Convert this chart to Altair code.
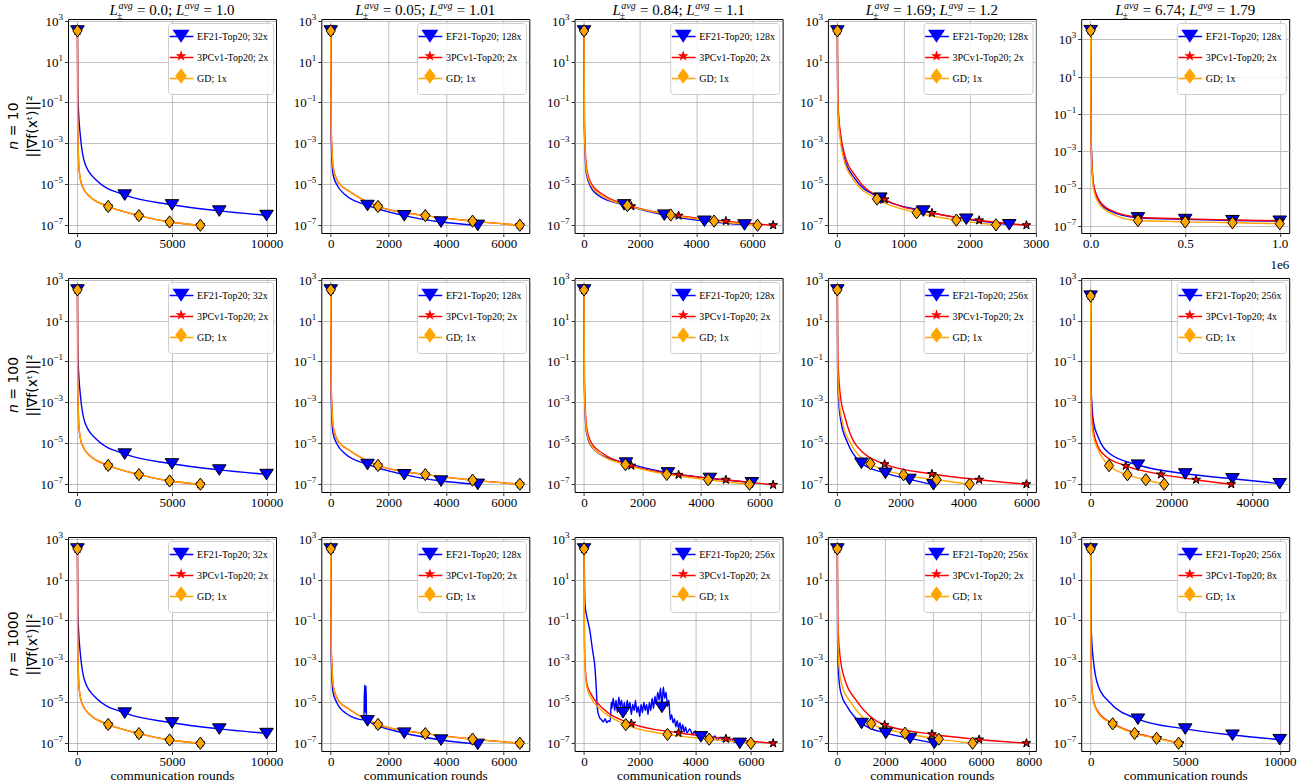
import altair as alt
import pandas as pd

# ---------------- texts ----------------
L_PM = ["0.0", "0.05", "0.84", "1.69", "6.74"]
L_M = ["1.0", "1.01", "1.1", "1.2", "1.79"]
N_WORKERS = ["10", "100", "1000"]
EF_RATE = [["32x", "128x", "128x", "128x", "128x"],
           ["32x", "128x", "128x", "256x", "256x"],
           ["32x", "128x", "256x", "256x", "256x"]]
PC_RATE = [["2x", "2x", "2x", "2x", "2x"],
           ["2x", "2x", "2x", "2x", "4x"],
           ["2x", "2x", "2x", "2x", "8x"]]
X_TICKS = [[[0, 5000, 10000], [0, 2000, 4000, 6000], [0, 2000, 4000, 6000], [0, 1000, 2000, 3000], [0, 500000, 1000000]],
           [[0, 5000, 10000], [0, 2000, 4000, 6000], [0, 2000, 4000, 6000], [0, 2000, 4000, 6000], [0, 20000, 40000]],
           [[0, 5000, 10000], [0, 2000, 4000, 6000], [0, 2000, 4000, 6000], [0, 2000, 4000, 6000, 8000], [0, 5000, 10000]]]
Y_TICKS = [1e-7, 1e-5, 1e-3, 1e-1, 1e1, 1e3]
Y_EXP = ["−7", "−5", "−3", "−1", "1", "3"]

# ---------------- series (x = rounds, lg = log10 ||grad||^2) ----------------
# column 1 (identical for n = 10, 100, 1000)
C1_EF21_X = [0, 20, 60, 150, 400, 1000, 2500, 5000, 7500, 10000]
C1_EF21_LG = [2.5, -0.5, -1.5, -2.6, -4.0, -4.8, -5.52, -6.0, -6.3, -6.52]
C1_GD_X = [0, 13, 39, 98, 260, 650, 1625, 3250, 4875, 6500]
C1_GD_LG = [2.5, -2.0, -3.2, -4.4, -5.1, -5.6, -6.08, -6.53, -6.84, -7.0]
C1_PC_X = [0, 13, 39, 98, 260, 650, 1625, 3250, 4875, 6500]
C1_PC_LG = [2.5, -2.0, -3.2, -4.4, -5.1, -5.6, -6.08, -6.53, -6.84, -7.0]

# column 2
C2_EF21_X = [0, 10, 31, 77, 204, 510, 1275, 2550, 3825, 5100]
C2_EF21_LG = [2.5, -2.0, -3.4, -4.5, -5.0, -5.52, -6.03, -6.53, -6.84, -7.0]
C2_GD_X = [0, 13, 39, 98, 262, 656, 1640, 3280, 4920, 6560]
C2_GD_LG = [2.5, -2.0, -3.2, -4.3, -4.9, -5.35, -6.08, -6.53, -6.8, -7.0]
C2_PC_X = [0, 13, 39, 98, 262, 656, 1640, 3280, 4920, 6560]
C2_PC_LG = [2.5, -2.0, -3.2, -4.3, -4.9, -5.35, -6.08, -6.53, -6.8, -7.0]
R3C2_EF21_X = [0, 10, 31, 77, 204, 510, 1150, 1165, 1180, 1195, 1210, 1225, 1240, 1275, 2550, 3825, 5100]
R3C2_EF21_LG = [2.5, -2.0, -3.4, -4.5, -5.0, -5.52, -5.85, -4.7, -4.15, -5.5, -4.4, -4.2, -5.7, -5.9, -6.5, -6.84, -7.05]

# column 3
R1C3_EF21_X = [0, 11, 34, 86, 229, 573, 1433, 2865, 4298, 5730]
R1C3_EF21_LG = [2.5, -2.0, -3.4, -4.5, -5.1, -5.6, -6.0, -6.5, -6.8, -6.98]
R1C3_PC_X = [0, 14, 41, 101, 270, 675, 1688, 3375, 5063, 6750]
R1C3_PC_LG = [2.5, -1.9, -3.2, -4.3, -5.0, -5.5, -6.07, -6.53, -6.8, -7.0]
R1C3_GD_X = [0, 12, 37, 93, 248, 619, 1548, 3095, 4643, 6190]
R1C3_GD_LG = [2.5, -2.0, -3.3, -4.4, -5.05, -5.55, -6.04, -6.5, -6.8, -7.0]

R2C3_EF21_X = [0, 11, 34, 86, 230, 574, 1435, 2870, 4305, 5740]
R2C3_EF21_LG = [2.5, -2.0, -3.4, -4.5, -5.1, -5.55, -5.96, -6.44, -6.71, -6.92]
R2C3_PC_X = [0, 13, 39, 97, 259, 647, 1618, 3235, 4853, 6470]
R2C3_PC_LG = [2.5, -1.9, -3.2, -4.3, -5.0, -5.5, -6.09, -6.54, -6.78, -7.03]
R2C3_GD_X = [0, 11, 34, 85, 226, 566, 1415, 2830, 4245, 5660]
R2C3_GD_LG = [2.5, -2.0, -3.3, -4.4, -5.05, -5.55, -6.04, -6.52, -6.78, -7.0]

R3C3_EF21_X = [0, 35, 100, 212, 300, 390, 440, 472, 507, 560, 625, 700, 760, 820, 880, 940, 980,
               1000, 1050, 1100, 1150, 1200, 1250, 1300, 1350, 1400, 1450, 1500, 1550, 1600, 1650,
               1700, 1750, 1800, 1850, 1900, 1950, 2000, 2050, 2100, 2150, 2200, 2250, 2300, 2350,
               2400, 2450, 2500, 2550, 2600, 2650, 2700, 2750, 2800, 2850, 2900, 2950, 3000, 3050,
               3100, 3150, 3200, 3250, 3300, 3350, 3400, 3450, 3500, 3550, 3600, 3650, 3700, 3800,
               3900, 4000, 4100, 4200, 4300, 4400, 4500, 4600, 4700, 4800, 4900, 5000, 5100, 5200,
               5300, 5400, 5500, 5600]
R3C3_EF21_LG = [2.5, -0.24, -0.8, -1.52, -2.4, -3.28, -4.3, -5.2, -5.53, -5.75, -5.85, -5.95, -5.8, -6.0, -5.9, -5.95, -5.0,
                -5.3, -4.8, -5.4, -4.9, -5.5, -4.75, -5.2, -4.9, -5.5, -5.0, -5.6, -4.9, -5.3, -5.0,
                -5.6, -5.1, -5.4, -4.9, -5.5, -5.2, -5.7, -5.1, -5.5, -5.0, -5.4, -5.1, -5.6, -5.0,
                -5.4, -4.8, -5.3, -4.7, -5.1, -4.5, -4.9, -4.3, -5.24, -4.25, -4.8, -4.5, -5.2, -4.9,
                -5.85, -5.6, -6.0, -5.8, -6.2, -5.9, -6.3, -6.0, -6.4, -6.1, -6.45, -6.2, -6.5, -6.3,
                -6.55, -6.4, -6.6, -6.68, -6.5, -6.75, -6.6, -6.8, -6.65, -6.85, -6.7, -6.9, -6.75, -6.9,
                -6.8, -6.95, -6.85, -7.0]
R3C3_PC_X = [0, 14, 41, 102, 272, 680, 1700, 3400, 5100, 6800]
R3C3_PC_LG = [2.5, -1.9, -3.2, -4.1, -4.65, -5.3, -6.04, -6.49, -6.78, -7.0]
R3C3_GD_X = [0, 12, 36, 90, 240, 600, 1500, 3000, 4500, 6000]
R3C3_GD_LG = [2.5, -2.0, -3.3, -4.2, -4.75, -5.35, -6.09, -6.57, -6.8, -7.0]

# column 4
R1C4_EF21_X = [0, 5, 16, 39, 104, 260, 650, 1300, 1950, 2600]
R1C4_EF21_LG = [2.5, -0.6, -1.6, -2.5, -3.7, -4.7, -5.67, -6.3, -6.7, -6.97]
R1C4_PC_X = [0, 6, 17, 43, 114, 286, 715, 1430, 2145, 2860]
R1C4_PC_LG = [2.5, -0.5, -1.5, -2.4, -3.6, -4.65, -5.74, -6.4, -6.76, -7.0]
R1C4_GD_X = [0, 5, 14, 36, 96, 240, 600, 1200, 1800, 2400]
R1C4_GD_LG = [2.5, -0.7, -1.7, -2.6, -3.75, -4.75, -5.72, -6.39, -6.75, -6.98]

R2C4_EF21_X = [0, 6, 18, 46, 122, 305, 763, 1525, 2288, 3050]
R2C4_EF21_LG = [2.5, -1.0, -2.0, -3.0, -4.0, -4.9, -5.97, -6.46, -6.76, -7.02]
R2C4_PC_X = [0, 12, 36, 90, 240, 600, 1500, 3000, 4500, 6000]
R2C4_PC_LG = [2.5, -0.5, -1.5, -2.6, -3.7, -5.1, -6.02, -6.5, -6.78, -7.0]
R2C4_GD_X = [0, 8, 25, 63, 168, 420, 1050, 2100, 3150, 4200]
R2C4_GD_LG = [2.5, -1.0, -2.0, -3.0, -4.0, -5.0, -6.0, -6.54, -6.78, -7.0]

R3C4_EF21_X = [0, 8, 24, 61, 162, 405, 1013, 2025, 3038, 4050]
R3C4_EF21_LG = [2.5, -1.5, -2.8, -3.8, -4.6, -5.2, -6.03, -6.51, -6.76, -7.0]
R3C4_PC_X = [0, 16, 47, 118, 316, 790, 1975, 3950, 5925, 7900]
R3C4_PC_LG = [2.5, -0.8, -1.8, -2.8, -3.9, -4.9, -6.11, -6.56, -6.82, -7.0]
R3C4_GD_X = [0, 11, 34, 85, 226, 565, 1413, 2825, 4238, 5650]
R3C4_GD_LG = [2.5, -1.2, -2.4, -3.4, -4.3, -5.0, -6.05, -6.51, -6.8, -7.0]

# column 5
R1C5_X = [0, 2000, 6000, 15000, 40000, 100000, 250000, 500000, 750000, 1000000]
R1C5_EF21_LG = [3.48, -2.0, -3.5, -4.8, -5.6, -6.2, -6.58, -6.67, -6.73, -6.76]
R1C5_PC_LG = [3.48, -2.0, -3.45, -4.75, -5.55, -6.15, -6.55, -6.64, -6.7, -6.74]
R1C5_GD_LG = [3.48, -2.3, -3.7, -5.0, -5.75, -6.3, -6.73, -6.8, -6.85, -6.9]

R2C5_EF21_X = [0, 94, 280, 700, 1870, 4680, 11700, 23400, 35100, 46800]
R2C5_EF21_LG = [2.2, -2.0, -3.0, -3.95, -4.7, -5.5, -6.06, -6.49, -6.73, -6.97]
R2C5_PC_X = [0, 70, 209, 522, 1392, 3480, 8700, 17400, 26100, 34800]
R2C5_PC_LG = [2.2, -2.0, -3.1, -4.1, -4.95, -5.6, -6.1, -6.52, -6.78, -7.0]
R2C5_GD_X = [0, 36, 109, 273, 728, 1820, 4550, 9100, 13650, 18200]
R2C5_GD_LG = [2.2, -2.0, -3.2, -4.0, -4.7, -5.3, -6.09, -6.54, -6.78, -7.0]

R3C5_EF21_X = [0, 20, 60, 150, 400, 1000, 2500, 5000, 7500, 10000]
R3C5_EF21_LG = [2.5, -1.0, -2.0, -3.0, -4.2, -5.0, -5.82, -6.3, -6.6, -6.82]
R3C5_PC_X = [0, 9, 28, 71, 188, 470, 1175, 2350, 3525, 4700]
R3C5_PC_LG = [2.5, -2.0, -3.2, -4.35, -5.05, -5.55, -6.03, -6.5, -6.75, -7.0]
R3C5_GD_X = [0, 9, 28, 70, 186, 465, 1163, 2325, 3488, 4650]
R3C5_GD_LG = [2.5, -2.0, -3.3, -4.4, -5.1, -5.6, -6.05, -6.52, -6.76, -7.0]

SERIES = [
    [[(C1_EF21_X, C1_EF21_LG), (C1_PC_X, C1_PC_LG), (C1_GD_X, C1_GD_LG)],
     [(C2_EF21_X, C2_EF21_LG), (C2_PC_X, C2_PC_LG), (C2_GD_X, C2_GD_LG)],
     [(R1C3_EF21_X, R1C3_EF21_LG), (R1C3_PC_X, R1C3_PC_LG), (R1C3_GD_X, R1C3_GD_LG)],
     [(R1C4_EF21_X, R1C4_EF21_LG), (R1C4_PC_X, R1C4_PC_LG), (R1C4_GD_X, R1C4_GD_LG)],
     [(R1C5_X, R1C5_EF21_LG), (R1C5_X, R1C5_PC_LG), (R1C5_X, R1C5_GD_LG)]],
    [[(C1_EF21_X, C1_EF21_LG), (C1_PC_X, C1_PC_LG), (C1_GD_X, C1_GD_LG)],
     [(C2_EF21_X, C2_EF21_LG), (C2_PC_X, C2_PC_LG), (C2_GD_X, C2_GD_LG)],
     [(R2C3_EF21_X, R2C3_EF21_LG), (R2C3_PC_X, R2C3_PC_LG), (R2C3_GD_X, R2C3_GD_LG)],
     [(R2C4_EF21_X, R2C4_EF21_LG), (R2C4_PC_X, R2C4_PC_LG), (R2C4_GD_X, R2C4_GD_LG)],
     [(R2C5_EF21_X, R2C5_EF21_LG), (R2C5_PC_X, R2C5_PC_LG), (R2C5_GD_X, R2C5_GD_LG)]],
    [[(C1_EF21_X, C1_EF21_LG), (C1_PC_X, C1_PC_LG), (C1_GD_X, C1_GD_LG)],
     [(R3C2_EF21_X, R3C2_EF21_LG), (C2_PC_X, C2_PC_LG), (C2_GD_X, C2_GD_LG)],
     [(R3C3_EF21_X, R3C3_EF21_LG), (R3C3_PC_X, R3C3_PC_LG), (R3C3_GD_X, R3C3_GD_LG)],
     [(R3C4_EF21_X, R3C4_EF21_LG), (R3C4_PC_X, R3C4_PC_LG), (R3C4_GD_X, R3C4_GD_LG)],
     [(R3C5_EF21_X, R3C5_EF21_LG), (R3C5_PC_X, R3C5_PC_LG), (R3C5_GD_X, R3C5_GD_LG)]],
]

# ---------------- styling ----------------
W, H = 208, 214
FONT = "Liberation Serif"
COLORS = ["#0000ff", "#ff0000", "#ffa500"]
# every marker path carries the same invisible -1..1 vertical extent so legend rows line up
TRI = "M0,-1M0,1M-1,-0.75L1,-0.75L0,0.8Z"
STAR = ("M0,-1M0,1M0,-0.68L0.153,-0.21L0.646,-0.21L0.247,0.08L0.4,0.55L0,0.26"
        "L-0.4,0.55L-0.247,0.08L-0.646,-0.21L-0.153,-0.21Z")
DIAM = "M0,-1M0,1M0,-0.9L0.68,0L0,0.9L-0.68,0Z"
LEG_LINE = "M0,-0.97M0,0.97M-1.4,0L1.4,0"
DUMMY = pd.DataFrame({"a": [0]})

REG = {' ': 250, '=': 564, '.': 250, ';': 278, '-': 333, 'x': 500, 'E': 611, 'F': 556,
       'T': 611, 'o': 500, 'p': 500, 'P': 556, 'C': 667, 'v': 500, 'G': 722, 'D': 722,
       '−': 564}
SANS = {'n': 634, ' ': 318, '=': 838}


def tw(s, size, table=REG):
    return sum(table.get(ch, 500 if table is REG else 636) for ch in s) * size / 1000.0


def text_layer(t, x, y, size, style="normal", align="left", font=FONT, angle=0, baseline="alphabetic"):
    return alt.Chart(DUMMY).mark_text(
        text=t, align=align, baseline=baseline, font=font, fontSize=size, angle=angle,
        fontStyle=style, color="black").encode(x=alt.value(x), y=alt.value(y))


def title_layers(a, b):
    sz, ssz = 15, 10
    pieces = []
    pos = [0.0]

    def lpart(sub):
        x = pos[0]
        wl = 556 * sz / 1000.0
        pieces.append(("L", x, -4, sz, "italic"))
        pieces.append(("avg", x + wl + 0.5, -10, ssz, "italic"))
        pieces.append((sub, x + wl - 1.0, 0, ssz, "normal"))
        pos[0] = x + wl + 0.5 + 1444 * ssz / 1000.0 + 0.5

    lpart("±")
    pos[0] += 3.75
    t1 = "= " + a + ";"
    pieces.append((t1, pos[0], -4, sz, "normal"))
    pos[0] += tw(t1, sz) + 3.75
    lpart("−")
    pos[0] += 3.75
    t2 = "= " + b
    pieces.append((t2, pos[0], -4, sz, "normal"))
    pos[0] += tw(t2, sz)
    off = W / 2.0 - pos[0] / 2.0
    return [text_layer(t, x + off, y, s, st) for (t, x, y, s, st) in pieces]


def row_label_layers(nval):
    sz = 14
    wn = tw("n", sz, SANS)
    ws = tw(" ", sz, SANS)
    rest = "= " + nval
    wr = tw(rest, sz, SANS)
    total = wn + ws + wr
    y0 = H / 2.0 + total / 2.0
    xl = -54
    return [text_layer("n", xl, y0, sz, style="italic", font="DejaVu Sans", angle=270, baseline="middle"),
            text_layer(rest, xl, y0 - wn - ws, sz, font="DejaVu Sans", angle=270, baseline="middle")]


def panel(r, c):
    labels = ["EF21-Top20; " + EF_RATE[r][c], "3PCv1-Top20; " + PC_RATE[r][c], "GD; 1x"]
    line_labels = [l + " " for l in labels]
    rows = []
    for k, ((xs, lg), lab) in enumerate(zip(SERIES[r][c], labels)):
        X = xs[-1]
        qs = [0, X / 4.0, X / 2.0, 3 * X / 4.0, X]
        for i, (x, v) in enumerate(zip(xs, lg)):
            rows.append({"x": x, "y": 10 ** v, "series": lab, "s2": lab + " ", "k": k, "i": i,
                         "mk": any(abs(x - q) <= 0.001 * X + 0.6 for q in qs)})
    df = pd.DataFrame(rows)
    xmax = max(s[0][-1] for s in SERIES[r][c])
    ydom = [10 ** -7.4, 10 ** 4.1] if (r == 0 and c == 4) else [10 ** -7.38, 10 ** 3.08]

    xaxis_kw = dict(values=X_TICKS[r][c], grid=True, gridColor="#b0b0b0", gridWidth=0.8,
                    domain=False, tickColor="black", tickSize=3.5, tickWidth=0.8,
                    labelFont=FONT, labelFontSize=13, labelColor="black", labelPadding=1,
                    labelFlush=False, labelOverlap=False,
                    titleFont=FONT, titleFontSize=13.5, titleFontWeight="normal",
                    titleColor="black", titlePadding=0)
    if r == 0 and c == 4:
        xaxis_kw["labelExpr"] = "format(datum.value / 1000000, '.1f')"
    else:
        xaxis_kw["format"] = "d"
    xaxis_kw["title"] = "communication rounds" if r == 2 else None
    xaxis = alt.Axis(**xaxis_kw)

    yaxis = alt.Axis(values=Y_TICKS, labels=False, grid=True, gridColor="#b0b0b0",
                     gridWidth=0.8, domain=False, tickColor="black", tickSize=3.5, tickWidth=0.8,
                     title=("||∇f(xᵗ)||²" if c == 0 else None),
                     titleFont="DejaVu Sans", titleFontSize=14, titleFontWeight="normal",
                     titleColor="black", titlePadding=25)

    xenc = alt.X("x:Q", scale=alt.Scale(domain=[-0.05 * xmax, 1.05 * xmax], nice=False, zero=False),
                 axis=xaxis)
    yenc = alt.Y("y:Q", scale=alt.Scale(type="log", domain=ydom, nice=False), axis=yaxis)

    lw = max(tw(l, 10) for l in labels)
    boxw = 2 * 4 + 17 + 6 + lw
    common = dict(orient="none", legendX=W - 5 - boxw, legendY=4, title=None, symbolSize=289,
                  labelFont=FONT, labelFontSize=10, labelOffset=6, padding=4, rowPadding=-3,
                  labelLimit=300)
    line_leg = alt.Legend(symbolType=LEG_LINE, symbolStrokeWidth=1.5, labelColor="black",
                          fillColor="rgba(255,255,255,0.85)", strokeColor="#cccccc",
                          cornerRadius=3, **common)
    pt_leg = alt.Legend(symbolStrokeColor="black", symbolStrokeWidth=1, labelExpr="''",
                        symbolOpacity=1, **common)

    line = alt.Chart(df).mark_line(strokeWidth=1.4, interpolate="monotone").encode(
        x=xenc, y=yenc,
        color=alt.Color("s2:N", scale=alt.Scale(domain=line_labels, range=COLORS),
                        legend=line_leg),
        order="i:Q")
    pts = alt.Chart(df[df["mk"]]).mark_point(filled=True, size=185, opacity=1, stroke="black",
                                             strokeWidth=1).encode(
        x=xenc, y=yenc,
        fill=alt.Fill("series:N", scale=alt.Scale(domain=labels, range=COLORS), legend=pt_leg),
        shape=alt.Shape("series:N", scale=alt.Scale(domain=labels, range=[TRI, STAR, DIAM]),
                        legend=pt_leg))

    # y tick labels "10" with a raised exponent
    ticks = pd.DataFrame({"y": Y_TICKS, "exp": Y_EXP, "neg": [e.startswith("−") for e in Y_EXP]})
    ew_neg = tw("−7", 9)
    ew_pos = tw("3", 9)
    base_neg = alt.Chart(ticks[ticks["neg"]]).mark_text(
        text="10", align="right", baseline="middle", font=FONT, fontSize=13, color="black",
        dy=1).encode(x=alt.value(-5 - ew_neg), y=yenc)
    base_pos = alt.Chart(ticks[~ticks["neg"]]).mark_text(
        text="10", align="right", baseline="middle", font=FONT, fontSize=13, color="black",
        dy=1).encode(x=alt.value(-5 - ew_pos), y=yenc)
    exps = alt.Chart(ticks).mark_text(
        align="right", baseline="middle", font=FONT, fontSize=9, color="black",
        dy=-4).encode(x=alt.value(-5), y=yenc, text="exp:N")

    layers = [line, pts, base_neg, base_pos, exps]
    if r == 0:
        layers += title_layers(L_PM[c], L_M[c])
    if c == 0:
        layers += row_label_layers(N_WORKERS[r])
    if r == 0 and c == 4:
        layers.append(text_layer("1e6", W, H + 36, 13, align="right"))
    return alt.layer(*layers).properties(width=W, height=H)


panels = [panel(r, c) for r in range(3) for c in range(5)]

chart = alt.concat(*panels, columns=5, spacing={"row": 45, "column": 45.3}, bounds="flush").resolve_scale(
    x="independent", y="independent", color="independent", fill="independent", shape="independent"
).configure_view(stroke="black", strokeWidth=1).properties(
    padding={"left": 6, "top": 0, "right": 2, "bottom": 0}, background="white")

chart.save("out.html", embed_options={"renderer": "svg", "actions": False})
